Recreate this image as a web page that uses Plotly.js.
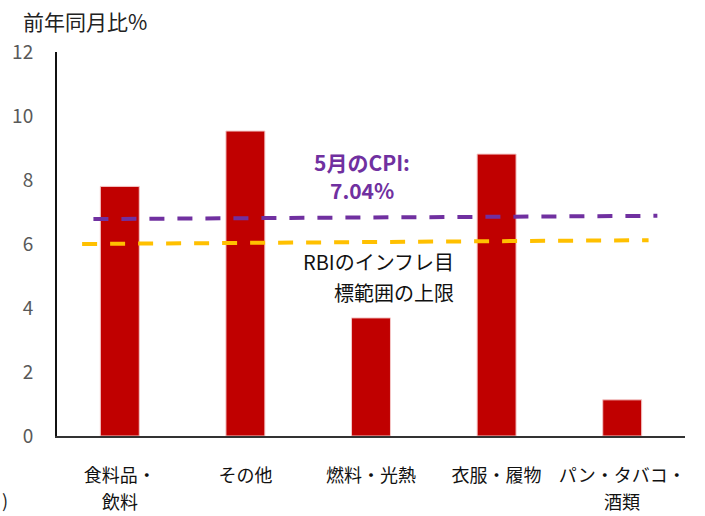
<!DOCTYPE html>
<html>
<head>
<meta charset="utf-8">
<script src="https://cdn.plot.ly/plotly-3.0.1.min.js"></script>
<style>html,body{margin:0;padding:0;background:#fff;}#chart{width:705px;height:516px;}</style>
</head>
<body>
<div id="chart"></div>
<script>
// Data
var categoryLine1 = ["食料品・", "その他", "燃料・光熱", "衣服・履物", "パン・タバコ・"];
var categoryLine2 = ["飲料", "", "", "", "酒類"];
var values = [7.8, 9.53, 3.69, 8.81, 1.13];
var cpiLineX = [-0.21, 4.28];
var cpiLineY = [6.78, 6.88];
var rbiLineX = [-0.30, 4.21];
var rbiLineY = [6.0, 6.12];
var yTicks = [0, 2, 4, 6, 8, 10, 12];
var cpiLabel = ["5月のCPI:", "7.04%"];
var rbiLabel = ["RBIのインフレ目", "標範囲の上限"];

var FONT = "'Noto Sans CJK JP', 'Noto Sans', sans-serif";
var positions = categoryLine1.map(function (_, i) { return i; });

var traces = [
  {
    type: "bar",
    x: positions,
    y: values,
    width: 0.31,
    marker: { color: "#C00000", line: { color: "#F4C7C7", width: 1 } },
    hoverinfo: "skip"
  },
  {
    type: "scatter",
    mode: "lines",
    x: rbiLineX,
    y: rbiLineY,
    line: { color: "#FFC000", width: 4, dash: "15px,13px" },
    hoverinfo: "skip"
  },
  {
    type: "scatter",
    mode: "lines",
    x: cpiLineX,
    y: cpiLineY,
    line: { color: "#7030A0", width: 4, dash: "15px,13px" },
    hoverinfo: "skip"
  }
];

var annotations = [
  {
    xref: "paper", yref: "paper", x: -0.058, y: 1, xanchor: "left", yanchor: "bottom",
    yshift: 14, text: "前年同月比%", showarrow: false,
    font: { family: FONT, size: 21, color: "#222" }
  },
  {
    xref: "paper", yref: "paper", x: -0.091, y: 0, xanchor: "left", yanchor: "middle",
    yshift: -64, text: ")", showarrow: false,
    font: { family: FONT, size: 18, color: "#222" }
  }
];

var cpiY = [8.56, 7.68];
cpiLabel.forEach(function (t, i) {
  annotations.push({
    xref: "x", yref: "y", x: 1.93, y: cpiY[i], xanchor: "center", yanchor: "middle",
    text: "<b>" + t + "</b>", showarrow: false, borderpad: 0,
    font: { family: FONT, size: 21, color: "#7030A0" }
  });
});

var rbiY = [5.44, 4.5];
rbiLabel.forEach(function (t, i) {
  annotations.push({
    xref: "x", yref: "y", x: 2.67, y: rbiY[i], xanchor: "right", yanchor: "middle",
    text: t, showarrow: false, borderpad: 0,
    font: { family: FONT, size: 20, color: "#111" }
  });
});

categoryLine2.forEach(function (t, i) {
  if (t) {
    annotations.push({
      xref: "x", yref: "paper", x: positions[i], y: 0, xanchor: "center", yanchor: "middle",
      yshift: -65, text: t, showarrow: false, borderpad: 0,
      font: { family: FONT, size: 18, color: "#111" }
    });
  }
});

var layout = {
  width: 705,
  height: 516,
  margin: { l: 57, r: 20, t: 52, b: 80 },
  paper_bgcolor: "#fff",
  plot_bgcolor: "#fff",
  showlegend: false,
  bargap: 0,
  xaxis: {
    range: [-0.5, 4.5],
    tickmode: "array",
    tickvals: positions,
    ticktext: categoryLine1,
    ticks: "",
    ticklabelstandoff: 22,
    showgrid: false,
    zeroline: false,
    showline: true,
    linecolor: "#333",
    linewidth: 2,
    tickfont: { family: FONT, size: 18, color: "#111" },
    fixedrange: true
  },
  yaxis: {
    range: [0, 12],
    tickmode: "array",
    tickvals: yTicks,
    ticks: "",
    ticklabelstandoff: 18,
    showgrid: false,
    zeroline: false,
    showline: true,
    linecolor: "#111",
    linewidth: 2,
    tickfont: { family: FONT, size: 19, color: "#595959" },
    fixedrange: true
  },
  annotations: annotations
};

Plotly.newPlot("chart", traces, layout, { displayModeBar: false, staticPlot: true });
</script>
</body>
</html>
